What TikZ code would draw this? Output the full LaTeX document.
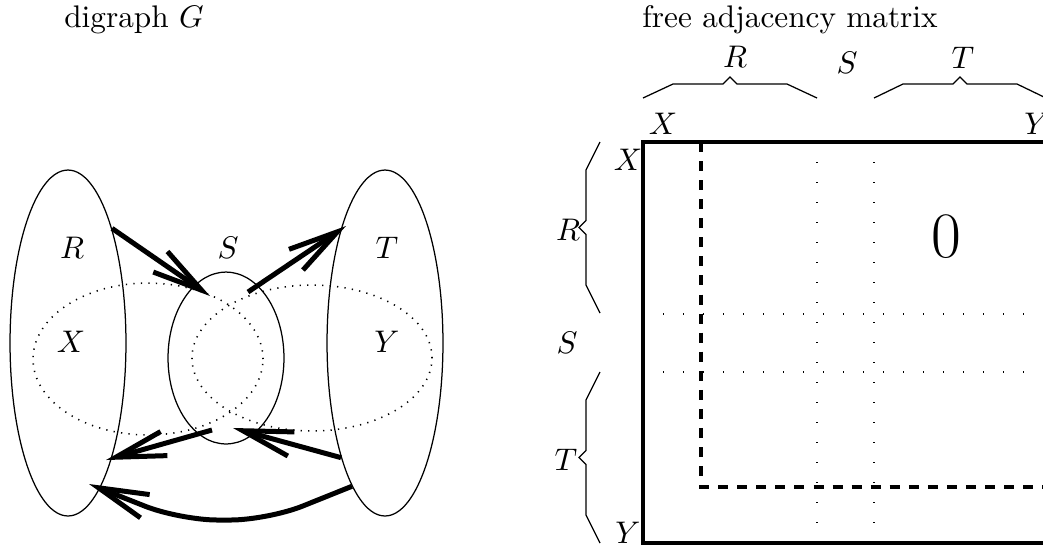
\documentclass[tikz,border=0pt]{standalone}
\usepackage{amsmath}
\usetikzlibrary{arrows.meta,shapes.geometric}

\begin{document}
\begin{tikzpicture}[x=0.32pt, y=-0.32pt,
  set/.style={draw, ellipse, inner sep=0pt, line width=0.4pt},
  part/.style={set, dotted, line width=0.5pt},
  arr/.style={-{Straight Barb[length=16pt,width=8pt]}, line width=1.6pt},
  brace/.style={line width=0.4pt},
  grid/.style={line width=0.45pt, dash pattern=on 0.45pt off 5.95pt},
  lbl/.style={inner sep=0pt}
]
\useasboundingbox (0,0) rectangle (1043,550);

% digraph G
\node[lbl, anchor=base] (title1) at (134,27) {digraph $G$};
\node[set, minimum width=37.1pt, minimum height=110.7pt] (R) at (68,343) {};
\node[set, minimum width=37.1pt, minimum height=110.7pt] (T) at (385,343) {};
\node[set, minimum width=37.1pt, minimum height=55pt] (S) at (226,358) {};
\node[part, minimum width=73.6pt, minimum height=48.6pt] (X) at (148,359) {};
\node[part, minimum width=76.8pt, minimum height=46.7pt] (Y) at (312,358) {};
\node[lbl] (gR) at (72,248) {$R$};
\node[lbl] (gS) at (228,248) {$S$};
\node[lbl] (gT) at (387,248) {$T$};
\node[lbl] (gX) at (71,342) {$X$};
\node[lbl] (gY) at (387,342) {$Y$};

\coordinate (s1) at (210,296);
\coordinate (s2) at (248,292);
\coordinate (t1) at (346,226);
\coordinate (s3) at (212,430);
\coordinate (r1) at (106,460);
\coordinate (s4) at (233,428);
\coordinate (r2) at (89,484);
\draw[arr] (R.69.5) -- (s1);
\draw[arr] (s2) -- (t1);
\draw[arr] (s3) -- (r1);
\draw[arr] (T.-111) -- (s4);
\draw[arr, rounded corners=12pt] (T.-103) -- (268,520) -- (180,520) -- (r2);

% free adjacency matrix
\node[lbl, anchor=base] (title2) at (790,27) {free adjacency matrix};
\draw[grid] (817,142) -- (817,543);
\draw[grid] (874,142) -- (874,543);
\draw[grid] (643,314) -- (1050,314);
\draw[grid] (643,372) -- (1050,372);
\draw[line width=1pt, dash pattern=on 3.2pt off 2.9pt] (701,142) -- (701,487) -- (1050,487);
\node[draw, line width=1.2pt, inner sep=0pt, minimum width=130.2pt, minimum height=128.3pt] (M) at (846.5,342.5) {};
\node[lbl] (zero) at (946,237) {\huge $0$};

\draw[brace] (643,98) -- (673,84) -- (723,84) -- (730,77) -- (737,84) -- (787,84) -- (817,98);
\draw[brace] (874,98) -- (903,84) -- (953,84) -- (960,77) -- (967,84) -- (1017,84) -- (1046,98);
\draw[brace] (600,142) -- (586,170) -- (586,220.5) -- (579,227.5) -- (586,234.5) -- (586,285) -- (600,313);
\draw[brace] (600,372) -- (586,400) -- (586,450.5) -- (579,457.5) -- (586,464.5) -- (586,515) -- (600,543);

\node[lbl] (cR) at (735,57) {$R$};
\node[lbl] (cS) at (847,63) {$S$};
\node[lbl] (cT) at (963,58) {$T$};
\node[lbl] (cX) at (663,124) {$X$};
\node[lbl] (cY) at (1037,124) {$Y$};
\node[lbl] (rR) at (568,230) {$R$};
\node[lbl] (rS) at (567,343) {$S$};
\node[lbl] (rT) at (566,460) {$T$};
\node[lbl] (rX) at (628,160) {$X$};
\node[lbl] (rY) at (628,533) {$Y$};
\end{tikzpicture}
\end{document}
